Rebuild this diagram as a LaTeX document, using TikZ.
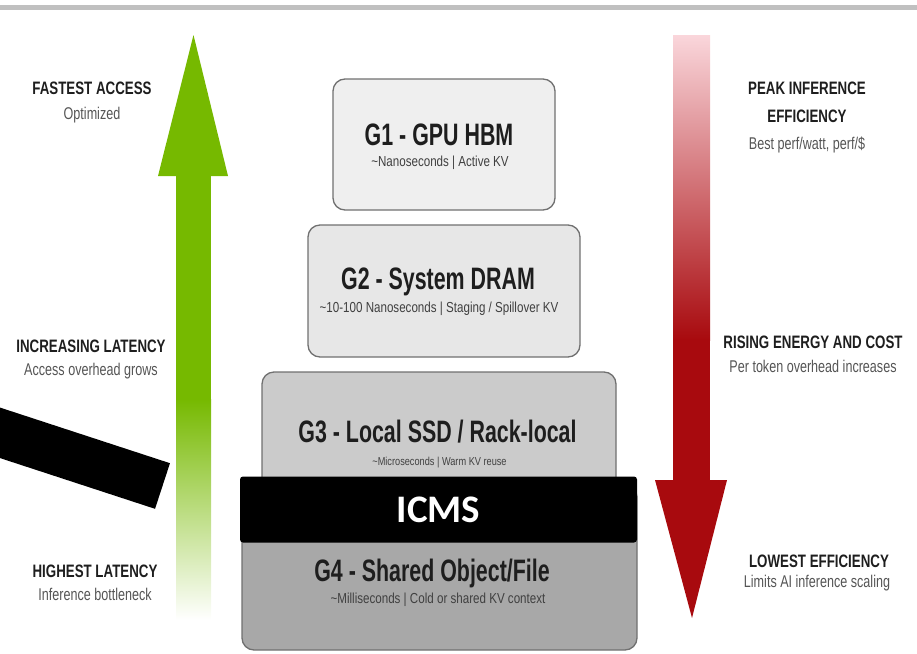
\documentclass[tikz,border=0pt]{standalone}
\usepackage{fontspec}
\setmainfont{Liberation Sans}
\newfontfamily\tierfont[FakeStretch=0.69]{Liberation Sans}
\newfontfamily\sidefont[FakeStretch=0.74]{Liberation Sans}
\newfontfamily\notefont[FakeStretch=0.8]{Liberation Sans}
\newfontfamily\tagfont{Carlito}

\definecolor{nvgreen}{RGB}{118,185,0}
\definecolor{deepred}{RGB}{168,10,14}
\definecolor{pinktop}{RGB}{250,214,219}
\definecolor{midred}{RGB}{224,78,90}
\definecolor{tierone}{RGB}{239,239,239}
\definecolor{tiertwo}{RGB}{231,231,231}
\definecolor{tierthree}{RGB}{203,203,203}
\definecolor{tierfour}{RGB}{168,168,168}
\definecolor{edgegray}{RGB}{112,112,112}
\definecolor{inkdark}{RGB}{30,30,30}
\definecolor{inksoft}{RGB}{85,85,85}
\definecolor{rulegray}{RGB}{192,192,192}

\tikzset{
  tier/.style={draw=edgegray, line width=1.3pt, rounded corners=12pt, inner sep=0pt},
  tiertitle/.style={font=\tierfont\bfseries\fontsize{31}{33}\selectfont, text=inkdark, anchor=base, inner sep=0pt},
  tiernote/.style={font=\notefont\fontsize{14.5}{16}\selectfont, text=inksoft!75!black, anchor=base, inner sep=0pt},
  sidehead/.style={font=\sidefont\bfseries\fontsize{18}{20}\selectfont, text=inkdark, anchor=base, inner sep=0pt},
  sidenote/.style={font=\sidefont\fontsize{17}{19}\selectfont, text=inksoft, anchor=base, inner sep=0pt},
  tagbox/.style={fill=black, rounded corners=3pt, inner sep=0pt, text=white,
    font=\tagfont\bfseries\fontsize{39}{41}\selectfont},
}

\begin{document}
\begin{tikzpicture}[x=1pt, y=-1pt]
\useasboundingbox (0,0) rectangle (917,653);

% thin rule along the top edge
\fill[rulegray] (0,5) rectangle (917,9.5);

% green "latency" arrow pointing up, fading out at its foot
\fill[nvgreen] (176,174) rectangle (211,400);
\shade[top color=nvgreen, bottom color=white] (176,399) rectangle (211,620);
\fill[nvgreen] (158,176) -- (193.5,35) -- (228,176) -- cycle;

% red "efficiency" arrow pointing down, pale at its top
\shade[top color=pinktop, middle color=midred, bottom color=deepred] (673,35) rectangle (710,340);
\fill[deepred] (673,339) rectangle (710,481);
\fill[deepred] (655,480) -- (727,480) -- (692,618) -- cycle;

% memory tiers
\node[tier, fill=tierone,   minimum width=222pt, minimum height=131pt] (g1) at (444,144.5) {};
\node[tier, fill=tiertwo,   minimum width=272pt, minimum height=132pt] (g2) at (444,291) {};
\node[tier, fill=tierthree, minimum width=354pt, minimum height=128pt] (g3) at (439,436) {};
\node[tier, fill=tierfour,  minimum width=395pt, minimum height=165pt] (g4) at (439.5,567.5) {};

\node[tiertitle] (g1title) at (439,145) {G1 - GPU HBM};
\node[tiernote]  (g1note)  at (440,166) {\textasciitilde Nanoseconds | Active KV};

\node[tiertitle] (g2title) at (438,289) {G2 - System DRAM};
\node[tiernote]  (g2note)  at (439,312) {\textasciitilde 10-100 Nanoseconds | Staging / Spillover KV};

\node[tiertitle] (g3title) at (437.5,442) {G3 - Local SSD / Rack-local};
\node[tiernote, font=\notefont\fontsize{11.5}{13}\selectfont] (g3note) at (439.5,465) {\textasciitilde Microseconds | Warm KV reuse};

\node[tiertitle] (g4title) at (432,581) {G4 - Shared Object/File};
\node[tiernote]  (g4note)  at (438,603) {\textasciitilde Milliseconds | Cold or shared KV context};

% ICMS banner across the two lower tiers
\node[tagbox, minimum width=397pt, minimum height=66pt] (icms) at (438.5,509.5) {ICMS};

% heavy black pointer bar entering from the left edge
\coordinate (barstart) at (-30,423);
\coordinate (barend) at (162.5,486);
\draw[line width=48pt, black] (barstart) -- (barend);

% left-hand captions
\node[sidehead] (fastest)  at (92,94)  {FASTEST ACCESS};
\node[sidenote] (optim)    at (92,119) {Optimized};
\node[sidehead] (incr)     at (91,352) {INCREASING LATENCY};
\node[sidenote] (overhead) at (91,375) {Access overhead grows};
\node[sidehead] (highest)  at (95,577) {HIGHEST LATENCY};
\node[sidenote] (bottle)   at (95,600) {Inference bottleneck};

% right-hand captions
\node[sidehead] (peak)     at (807,94)  {PEAK INFERENCE};
\node[sidehead] (effic)    at (807,122) {EFFICIENCY};
\node[sidenote] (perfwatt) at (807,149) {Best perf/watt, perf/\$};
\node[sidehead] (rising)   at (813,348) {RISING ENERGY AND COST};
\node[sidenote] (pertoken) at (813,372) {Per token overhead increases};
\node[sidehead] (lowest)   at (819,567) {LOWEST EFFICIENCY};
\node[sidenote] (limits)   at (817,587) {Limits AI inference scaling};
\end{tikzpicture}
\end{document}
